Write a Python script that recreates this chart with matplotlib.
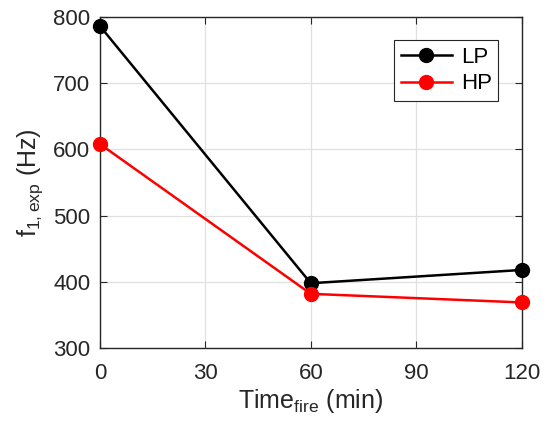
import matplotlib.pyplot as plt

plt.rcParams['font.family'] = ['Liberation Sans', 'DejaVu Sans']

time = [0, 60, 120]
lp = [786, 398, 418]
hp = [608, 382, 369]
xticks = [0, 30, 60, 90, 120]
yticks = [300, 400, 500, 600, 700, 800]

fig = plt.figure(figsize=(5.51, 4.22), dpi=100)
ax = fig.add_axes([0.1815, 0.175, 0.765, 0.785])

ax.plot(time, lp, '-o', color='black', lw=1.8, ms=10, label='LP', clip_on=False, zorder=3)
ax.plot(time, hp, '-o', color='red', lw=1.8, ms=10, label='HP', clip_on=False, zorder=3)

ax.set_xlim(0, 120)
ax.set_ylim(300, 800)
ax.set_xticks(xticks)
ax.set_yticks(yticks)
ax.grid(True, color='#e0e0e0', lw=0.9)
ax.set_axisbelow(True)
ax.tick_params(direction='in', top=True, right=True, labelsize=16, colors='#262626', length=5)
ax.tick_params(axis='x', pad=11)
ax.tick_params(axis='y', pad=7)
for s in ax.spines.values():
    s.set_color('#262626')
    s.set_linewidth(1)

ax.set_xlabel(r'Time$_{\mathregular{fire}}$ (min)', fontsize=18, color='#262626', labelpad=2)
ax.set_ylabel(r'f$_{\mathregular{1,exp}}$ (Hz)', fontsize=18, color='#262626', labelpad=6)

leg = ax.legend(loc='upper right', bbox_to_anchor=(0.945, 0.93), fontsize=16, fancybox=False,
                framealpha=1, edgecolor='#262626', handlelength=2.3, borderpad=0.3,
                labelspacing=0.25, handletextpad=0.4, borderaxespad=0)
leg.get_frame().set_linewidth(0.8)

fig.savefig('out.png', dpi=100)
